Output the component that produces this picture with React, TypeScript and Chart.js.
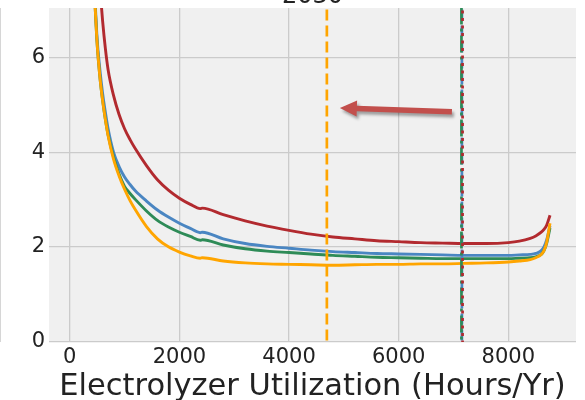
import React, { useEffect, useRef } from "react";
import { Chart, registerables } from "chart.js";
Chart.register(...registerables);

const FONT = "'DejaVu Sans', sans-serif";

// Electrolyzer utilization (hours / yr)
const hours = [400, 450, 500, 550, 600, 650, 700, 800, 900, 1000, 1100, 1200, 1400, 1600, 1800, 2000, 2200, 2380, 2420, 2800, 3200, 3600, 4000, 4400, 4800, 5200, 5600, 6000, 6400, 6800, 7200, 7600, 8000, 8200, 8400, 8500, 8600, 8650, 8700, 8760];

const redSeries = [10.0, 9.0, 8.2, 7.5, 6.78, 6.2, 5.75, 5.2, 4.8, 4.5, 4.27, 4.07, 3.72, 3.42, 3.2, 3.03, 2.9, 2.81, 2.82, 2.68, 2.55, 2.44, 2.35, 2.27, 2.21, 2.17, 2.13, 2.11, 2.09, 2.08, 2.07, 2.07, 2.09, 2.12, 2.18, 2.23, 2.31, 2.37, 2.46, 2.67];
const blueSeries = [8.7, 7.5, 6.4, 5.75, 5.25, 4.85, 4.5, 4.0, 3.7, 3.48, 3.32, 3.18, 2.97, 2.78, 2.63, 2.5, 2.39, 2.3, 2.31, 2.17, 2.07, 2.01, 1.97, 1.93, 1.9, 1.88, 1.86, 1.85, 1.84, 1.83, 1.82, 1.82, 1.82, 1.83, 1.84, 1.86, 1.92, 2.0, 2.15, 2.45];
const greenSeries = [8.6, 7.4, 6.3, 5.6, 5.1, 4.7, 4.37, 3.9, 3.54, 3.28, 3.13, 3.0, 2.76, 2.56, 2.42, 2.31, 2.22, 2.14, 2.15, 2.04, 1.96, 1.91, 1.88, 1.85, 1.82, 1.8, 1.78, 1.77, 1.76, 1.75, 1.75, 1.75, 1.75, 1.76, 1.77, 1.79, 1.84, 1.92, 2.08, 2.4];
const orangeSeries = [8.6, 7.4, 6.3, 5.6, 5.1, 4.7, 4.35, 3.85, 3.5, 3.22, 2.98, 2.78, 2.43, 2.17, 2.0, 1.89, 1.81, 1.76, 1.77, 1.7, 1.66, 1.64, 1.63, 1.62, 1.61, 1.62, 1.63, 1.63, 1.64, 1.64, 1.65, 1.66, 1.68, 1.7, 1.73, 1.77, 1.84, 1.92, 2.1, 2.5];

// optimum utilization markers
const orangeOptimum = 4690;
const redOptimum = 7165;
const blueOptimum = 7153;
const greenOptimum = 7145;

// arrow annotation (data coords)
const arrowTail = { x: 6971, y: 4.86 };
const arrowHead = { x: 4927, y: 4.94 };

const xTicks = [0, 2000, 4000, 6000, 8000];
const yTicks = [0, 2, 4, 6];
const xRange = [-378, 9234];
const yRange = [-0.014, 7.056];

const titleText = "2030";
const xTitle = "Electrolyzer Utilization (Hours/Yr)";

const RED = "#b22a2f";
const BLUE = "#4a86c2";
const GREEN = "#2e8b57";
const ORANGE = "#ffa500";

const toPts = (ys: number[]) => hours.map((h, i) => ({ x: h, y: ys[i] }));
const vline = (x: number) => [{ x, y: -1 }, { x, y: 9 }];

const decorPlugin = {
  id: "decor",
  beforeDraw(chart: any) {
    const { ctx, chartArea: a } = chart;
    ctx.save();
    ctx.fillStyle = "#f0f0f0";
    ctx.fillRect(a.left, a.top, a.right - a.left, a.bottom - a.top);
    ctx.strokeStyle = "#d6d6d6";
    ctx.lineWidth = 1;
    ctx.beginPath();
    ctx.moveTo(0.5, a.top);
    ctx.lineTo(0.5, a.bottom);
    ctx.stroke();
    ctx.restore();
  },
  afterDraw(chart: any) {
    const { ctx, chartArea: a, scales } = chart;
    const xs = scales.x, ys = scales.y;
    // arrow
    const x1 = xs.getPixelForValue(arrowTail.x), y1 = ys.getPixelForValue(arrowTail.y);
    const x2 = xs.getPixelForValue(arrowHead.x), y2 = ys.getPixelForValue(arrowHead.y);
    const dx = x2 - x1, dy = y2 - y1;
    const len = Math.hypot(dx, dy);
    const ux = dx / len, uy = dy / len;
    const nx = -uy, ny = ux;
    const sw = 2.8, hw = 8, hl = 17;
    const bx = x2 - ux * hl, by = y2 - uy * hl;
    ctx.save();
    ctx.shadowColor = "rgba(0,0,0,0.35)";
    ctx.shadowBlur = 3;
    ctx.shadowOffsetX = 2;
    ctx.shadowOffsetY = 3;
    ctx.fillStyle = "#c24f4c";
    ctx.beginPath();
    ctx.moveTo(x1 + nx * sw, y1 + ny * sw);
    ctx.lineTo(bx + nx * sw, by + ny * sw);
    ctx.lineTo(bx + nx * hw, by + ny * hw);
    ctx.lineTo(x2, y2);
    ctx.lineTo(bx - nx * hw, by - ny * hw);
    ctx.lineTo(bx - nx * sw, by - ny * sw);
    ctx.lineTo(x1 - nx * sw, y1 - ny * sw);
    ctx.closePath();
    ctx.fill();
    ctx.restore();
    // titles
    ctx.save();
    ctx.fillStyle = "#222222";
    ctx.textAlign = "center";
    ctx.textBaseline = "alphabetic";
    const cx = (a.left + a.right) / 2;
    ctx.font = `30.5px ${FONT}`;
    ctx.fillText(xTitle, cx, 395);
    ctx.font = `24px ${FONT}`;
    ctx.fillText(titleText, cx, 2.5);
    ctx.restore();
  },
};

export default function App() {
  const ref = useRef<HTMLCanvasElement>(null);
  useEffect(() => {
    const lineDs = (data: any, color: string, order: number) => ({
      data,
      borderColor: color,
      backgroundColor: color,
      borderWidth: 2.9,
      pointRadius: 0,
      cubicInterpolationMode: "monotone",
      fill: false,
      order,
    });
    const vDs = (x: number, color: string, dash: number[], order: number) => ({
      data: vline(x),
      borderColor: color,
      borderWidth: 2.7,
      borderDash: dash,
      pointRadius: 0,
      fill: false,
      order,
    });
    const chart = new Chart(ref.current!, {
      type: "line",
      data: {
        datasets: [
          lineDs(toPts(redSeries), RED, 13),
          lineDs(toPts(blueSeries), BLUE, 12),
          lineDs(toPts(greenSeries), GREEN, 11),
          lineDs(toPts(orangeSeries), ORANGE, 10),
          vDs(orangeOptimum, ORANGE, [11, 5], 4),
          vDs(blueOptimum, BLUE, [11, 5], 3),
          vDs(redOptimum, RED, [3, 4.5], 1),
          vDs(greenOptimum, GREEN, [17, 4, 3, 4], 2),
        ] as any,
      },
      options: {
        responsive: false,
        animation: false,
        devicePixelRatio: 1,
        layout: { padding: { top: 8, right: 9, bottom: 0, left: 0 } },
        plugins: {
          legend: { display: false },
          tooltip: { enabled: false },
          title: { display: false },
        },
        scales: {
          x: {
            type: "linear",
            min: xRange[0],
            max: xRange[1],
            border: { display: false },
            grid: { color: "#cbcbcb", lineWidth: 1.3, drawTicks: false },
            ticks: {
              font: { family: FONT, size: 21 },
              color: "#222222",
              padding: 3,
              maxRotation: 0,
              callback: (v: any) => String(v),
            },
            afterBuildTicks: (s: any) => {
              s.ticks = xTicks.map((v) => ({ value: v }));
            },
            afterFit: (s: any) => {
              s.height = 58;
              s.paddingLeft = 0;
              s.paddingRight = 0;
            },
          },
          y: {
            type: "linear",
            min: yRange[0],
            max: yRange[1],
            border: { display: false },
            grid: { color: "#cbcbcb", lineWidth: 1.3, drawTicks: false },
            ticks: { font: { family: FONT, size: 21 }, color: "#222222", padding: 4, callback: (v: any) => String(v) },
            afterBuildTicks: (s: any) => {
              s.ticks = yTicks.map((v) => ({ value: v }));
            },
            afterFit: (s: any) => {
              s.width = 49;
              s.paddingTop = 0;
              s.paddingBottom = 0;
            },
          },
        },
      } as any,
      plugins: [decorPlugin],
    });
    return () => chart.destroy();
  }, []);
  return (
    <div style={{ position: "fixed", left: 0, top: 0, width: 585, height: 400, background: "#ffffff", overflow: "hidden" }}>
      <canvas ref={ref} width={585} height={400} style={{ display: "block", width: 585, height: 400 }} />
    </div>
  );
}
